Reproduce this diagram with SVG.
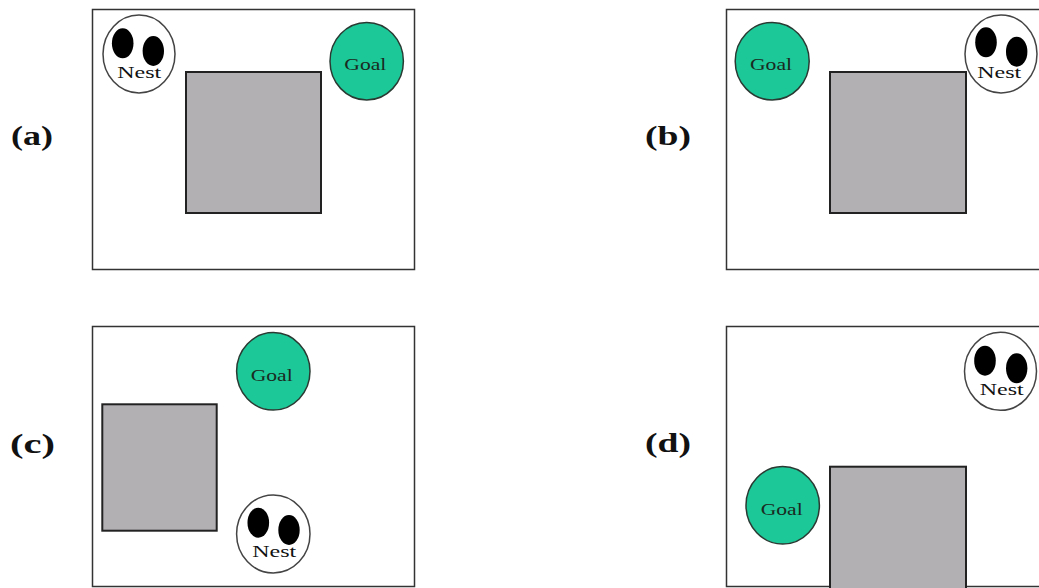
<svg xmlns="http://www.w3.org/2000/svg" width="1039" height="588" viewBox="0 0 1039 588">
  <style>
    .arena { fill: #ffffff; stroke: #333333; stroke-width: 1.5; }
    .block { fill: #b2b0b2; stroke: #222222; stroke-width: 2; }
    .goal { fill: #1cc897; stroke: #2a3a33; stroke-width: 1.5; }
    .nest { fill: #ffffff; stroke: #444444; stroke-width: 1.5; }
    .egg { fill: #000000; }
    .lbl { font-family: "Liberation Serif", "Times New Roman", serif; fill: #111111; text-anchor: middle; }
    .nl { font-size: 17px; }
    .gl { font-size: 17px; fill: #1a2a22; }
    .cap { font-family: "Liberation Serif", "Times New Roman", serif; font-size: 28px; font-weight: bold; fill: #111111; }
  </style>

  <rect width="1039" height="588" fill="#ffffff"/>

  <!-- panel (a) -->
  <g id="panel-a">
    <text class="cap" x="11" y="145" textLength="42" lengthAdjust="spacingAndGlyphs">(a)</text>
    <rect id="arena-a" class="arena" x="92.5" y="9.5" width="322" height="260"/>
    <rect id="block-a" class="block" x="186" y="72" width="135" height="141"/>
    <g id="nest-a">
      <ellipse class="nest" cx="139" cy="54" rx="36" ry="39"/>
      <ellipse class="egg" cx="122.7" cy="43.3" rx="10.8" ry="15"/>
      <ellipse class="egg" cx="153.3" cy="51" rx="10.7" ry="15"/>
      <text class="lbl nl" x="139.3" y="77.5" textLength="44" lengthAdjust="spacingAndGlyphs">Nest</text>
    </g>
    <g id="goal-a">
      <ellipse class="goal" cx="366.7" cy="61.2" rx="36.7" ry="38.8"/>
      <text class="lbl gl" x="365.3" y="70" textLength="42" lengthAdjust="spacingAndGlyphs">Goal</text>
    </g>
  </g>

  <!-- panel (b) -->
  <g id="panel-b">
    <text class="cap" x="645" y="145" textLength="46" lengthAdjust="spacingAndGlyphs">(b)</text>
    <rect id="arena-b" class="arena" x="726.5" y="9.5" width="322" height="260"/>
    <rect id="block-b" class="block" x="830" y="72" width="136" height="141"/>
    <g id="goal-b">
      <ellipse class="goal" cx="772.2" cy="61.2" rx="37" ry="38.8"/>
      <text class="lbl gl" x="771" y="70" textLength="42" lengthAdjust="spacingAndGlyphs">Goal</text>
    </g>
    <g id="nest-b">
      <ellipse class="nest" cx="1001" cy="54" rx="36" ry="39"/>
      <ellipse class="egg" cx="986" cy="42.3" rx="10.8" ry="15"/>
      <ellipse class="egg" cx="1016.7" cy="51.7" rx="10.7" ry="15"/>
      <text class="lbl nl" x="999.3" y="77.5" textLength="44" lengthAdjust="spacingAndGlyphs">Nest</text>
    </g>
  </g>

  <!-- panel (c) -->
  <g id="panel-c">
    <text class="cap" x="10" y="453" textLength="45" lengthAdjust="spacingAndGlyphs">(c)</text>
    <rect id="arena-c" class="arena" x="92.5" y="326.5" width="322" height="260"/>
    <rect id="block-c" class="block" x="102.3" y="404.3" width="114.4" height="126.4"/>
    <g id="goal-c">
      <ellipse class="goal" cx="273.3" cy="371.3" rx="36.7" ry="38.7"/>
      <text class="lbl gl" x="271.7" y="380.7" textLength="42" lengthAdjust="spacingAndGlyphs">Goal</text>
    </g>
    <g id="nest-c">
      <ellipse class="nest" cx="273.3" cy="534" rx="36.7" ry="39"/>
      <ellipse class="egg" cx="258.3" cy="522.7" rx="10.8" ry="15"/>
      <ellipse class="egg" cx="289" cy="530" rx="10.7" ry="15"/>
      <text class="lbl nl" x="274.3" y="556.7" textLength="44" lengthAdjust="spacingAndGlyphs">Nest</text>
    </g>
  </g>

  <!-- panel (d) -->
  <g id="panel-d">
    <text class="cap" x="645" y="451.7" textLength="46" lengthAdjust="spacingAndGlyphs">(d)</text>
    <rect id="arena-d" class="arena" x="726.5" y="326.5" width="322" height="260"/>
    <rect id="block-d" class="block" x="830" y="466.7" width="136" height="130"/>
    <g id="nest-d">
      <ellipse class="nest" cx="1000.5" cy="371.3" rx="36" ry="39"/>
      <ellipse class="egg" cx="985" cy="360.7" rx="10.8" ry="15"/>
      <ellipse class="egg" cx="1016.7" cy="368.3" rx="10.7" ry="15"/>
      <text class="lbl nl" x="1001.7" y="395" textLength="44" lengthAdjust="spacingAndGlyphs">Nest</text>
    </g>
    <g id="goal-d">
      <ellipse class="goal" cx="782.7" cy="505.3" rx="36.7" ry="38.7"/>
      <text class="lbl gl" x="781.7" y="515" textLength="42" lengthAdjust="spacingAndGlyphs">Goal</text>
    </g>
  </g>

  <!-- connectors: none drawn -->
  <g id="connectors"/>
</svg>
